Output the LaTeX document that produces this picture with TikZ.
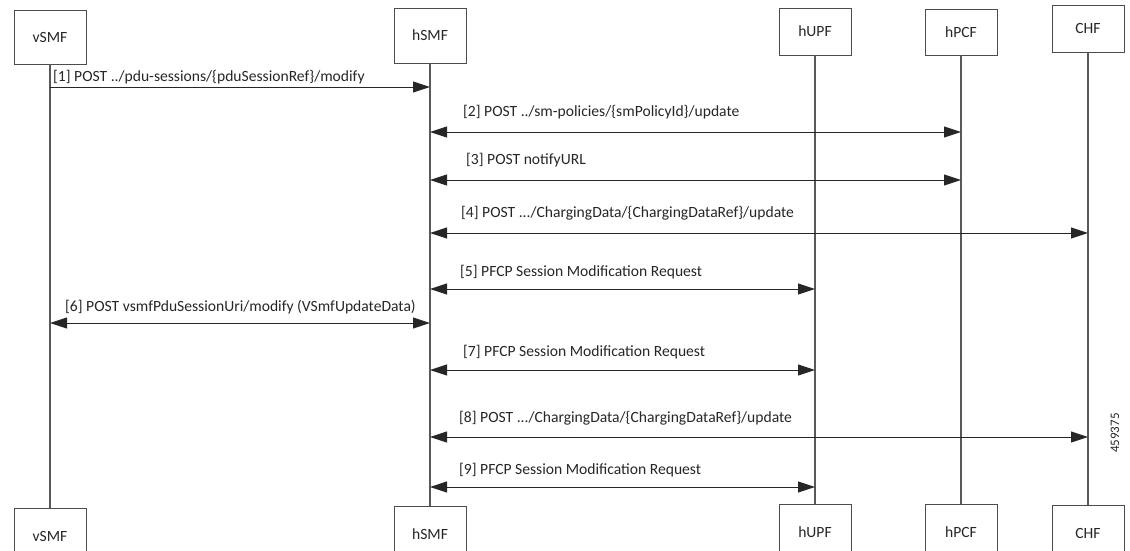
\documentclass[tikz,border=0pt]{standalone}
\usepackage{fontspec}
\setmainfont{Carlito}
\usetikzlibrary{arrows.meta}
\begin{document}
\begin{tikzpicture}[x=1pt,y=-1pt,
  font=\fontsize{15.6}{17}\selectfont,
  actor/.style={draw=black!70, line width=0.9pt, fill=white, minimum width=72pt, inner sep=0pt, text=black!85, font=\fontsize{15.6}{17}\selectfont},
  lifeline/.style={draw=black!65, line width=1.1pt},
  tipA/.tip={Triangle[length=17pt,width=11pt]},
  msg/.style={draw=black!85, line width=0.9pt, -tipA},
  dmsg/.style={draw=black!85, line width=0.9pt, tipA-tipA},
  lbl/.style={anchor=west, inner sep=0pt, text=black!85}]
\path[use as bounding box] (0,0) rectangle (1130,550);
\clip (0,0) rectangle (1130,550);
% lifeline x positions
\def\xv{50}\def\xh{430}\def\xu{815}\def\xp{961}\def\xc{1088}
% top boxes
\node[actor, minimum height=54pt] (vT) at (\xv,37) {vSMF};
\node[actor, minimum height=55pt] (hT) at (\xh,35.5) {hSMF};
\node[actor, minimum height=47pt] (uT) at (\xu,31.5) {hUPF};
\node[actor, minimum height=46pt] (pT) at (\xp,32) {hPCF};
\node[actor, minimum height=47pt] (cT) at (\xc,28.5) {CHF};
% bottom boxes (cut by the lower edge)
\node[actor, minimum height=56pt] (vB) at (\xv,536) {vSMF};
\node[actor, minimum height=56pt] (hB) at (\xh,534) {hSMF};
\node[actor, minimum height=56pt] (uB) at (\xu,532) {hUPF};
\node[actor, minimum height=56pt] (pB) at (\xp,532) {hPCF};
\node[actor, minimum height=56pt] (cB) at (\xc,533) {CHF};
% lifelines
\draw[lifeline] (vT.south) -- (vB.north);
\draw[lifeline] (hT.south) -- (hB.north);
\draw[lifeline] (uT.south) -- (uB.north);
\draw[lifeline] (pT.south) -- (pB.north);
\draw[lifeline] (cT.south) -- (cB.north);
% message end points on the lifelines
\coordinate (v1) at (\xv,87);  \coordinate (h1) at (\xh,87);
\coordinate (h2) at (\xh,132); \coordinate (p2) at (\xp,132);
\coordinate (h3) at (\xh,180); \coordinate (p3) at (\xp,180);
\coordinate (h4) at (\xh,233); \coordinate (c4) at (\xc,233);
\coordinate (h5) at (\xh,289); \coordinate (u5) at (\xu,289);
\coordinate (v6) at (\xv,323); \coordinate (h6) at (\xh,323);
\coordinate (h7) at (\xh,370); \coordinate (u7) at (\xu,370);
\coordinate (h8) at (\xh,437); \coordinate (c8) at (\xc,437);
\coordinate (h9) at (\xh,487); \coordinate (u9) at (\xu,487);
% messages
\draw[msg]  (v1) -- (h1);
\draw[dmsg] (h2) -- (p2);
\draw[dmsg] (h3) -- (p3);
\draw[dmsg] (h4) -- (c4);
\draw[dmsg] (h5) -- (u5);
\draw[dmsg] (v6) -- (h6);
\draw[dmsg] (h7) -- (u7);
\draw[dmsg] (h8) -- (c8);
\draw[dmsg] (h9) -- (u9);
% labels
\node[lbl] (l1) at (53,77)   {[1] POST ../pdu-sessions/\{pduSessionRef\}/modify};
\node[lbl] (l2) at (463,112) {[2] POST ../sm-policies/\{smPolicyId\}/update};
\node[lbl] (l3) at (466,160) {[3] POST notifyURL};
\node[lbl] (l4) at (461,213) {[4] POST .../ChargingData/\{ChargingDataRef\}/update};
\node[lbl] (l5) at (460,272) {[5] PFCP Session Modification Request};
\node[lbl] (l6) at (65,307)  {[6] POST vsmfPduSessionUri/modify (VSmfUpdateData)};
\node[lbl] (l7) at (463,352) {[7] PFCP Session Modification Request};
\node[lbl] (l8) at (459,418) {[8] POST .../ChargingData/\{ChargingDataRef\}/update};
\node[lbl] (l9) at (459,470) {[9] PFCP Session Modification Request};
\node[rotate=90, inner sep=0pt, text=black!85, font=\fontsize{13}{15}\selectfont] (fig) at (1115,433) {459375};
\end{tikzpicture}
\end{document}
